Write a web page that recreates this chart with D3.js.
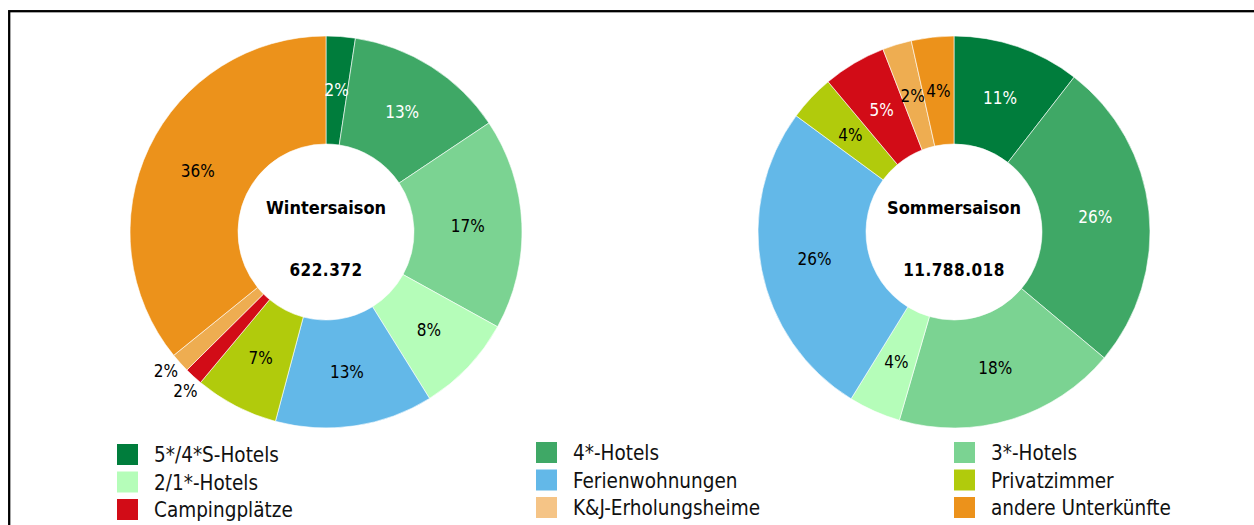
<!DOCTYPE html>
<html>
<head>
<meta charset="utf-8">
<script src="https://cdn.jsdelivr.net/npm/d3@7"></script>
<style>
  body { margin: 0; background: #fff; }
  svg { display: block; font-family: "DejaVu Sans Condensed", "DejaVu Sans", sans-serif; font-stretch: condensed; }
  .pct { font-family: "Liberation Sans Narrow", "DejaVu Sans Condensed", sans-serif; }
</style>
</head>
<body>
<div id="chart"></div>
<script>

// categories in legend / slice order
const categories = ["5*/4*S-Hotels", "4*-Hotels", "3*-Hotels", "2/1*-Hotels", "Ferienwohnungen",
    "Privatzimmer", "Campingplätze", "K&J-Erholungsheime", "andere Unterkünfte"];

// shares in percent
const winterShares = [2.4, 13.2, 17.4, 8.1, 13.0, 6.9, 1.5, 1.6, 35.8];
const summerShares = [10.5, 25.6, 18.4, 4.3, 26.3, 3.8, 5.2, 2.4, 3.5];

const seasons = ["Wintersaison", "Sommersaison"];
const totals = ["622.372", "11.788.018"];

const sliceColors = ["#007d3c", "#3fa866", "#7bd392", "#b5fdb9", "#63b8e8", "#b1cb0c", "#d20c17", "#eead51", "#ec921b"];
const legendColors = ["#007d3c", "#3fa866", "#7bd392", "#b5fdb9", "#63b8e8", "#b1cb0c", "#d20c17", "#f5c486", "#ec921b"];
const whiteText = ["5*/4*S-Hotels", "4*-Hotels", "Campingplätze"];

let width = 1254, height = 525;

let svg = d3.select("#chart").append("svg")
    .attr("width", width)
    .attr("height", height);

// frame (runs off the right and bottom edge)
svg.append("rect")
    .attr("x", 9.2)
    .attr("y", 11.2)
    .attr("width", width + 20)
    .attr("height", height + 20)
    .attr("fill", "none")
    .attr("stroke", "#000")
    .attr("stroke-width", 2.3);

let color = d3.scaleOrdinal().domain(categories).range(sliceColors);
let legendColor = d3.scaleOrdinal().domain(categories).range(legendColors);

let outerR = 196, innerR = 88;

let pie = d3.pie().sort(null).value(d => d.value);
let arc = d3.arc().innerRadius(innerR).outerRadius(outerR);
let labelArc = d3.arc().innerRadius(142).outerRadius(142);
let outsideR = 212;
let minGap = 7.5 * Math.PI / 180;

let centers = [326, 954];

[winterShares, summerShares].forEach((shares, i) => {
    let data = categories.map((c, j) => ({cat: c, value: shares[j]}));
    let arcs = pie(data);

    // small slices get their label outside, spread a bit so they don't collide
    let outside = arcs.filter(d => d.data.value < 2);
    outside.forEach(d => d.labelAngle = (d.startAngle + d.endAngle) / 2);
    for (let k = 1; k < outside.length; k++) {
        let a = outside[k - 1], b = outside[k];
        let diff = b.labelAngle - a.labelAngle;
        if (diff < minGap) {
            let mid = (a.labelAngle + b.labelAngle) / 2;
            a.labelAngle = mid - minGap / 2;
            b.labelAngle = mid + minGap / 2;
        }
    }

    let g = svg.append("g")
        .attr("transform", `translate(${centers[i]}, 232)`);

    g.selectAll(".slice")
        .data(arcs)
        .enter().append("path")
        .attr("class", "slice")
        .attr("d", arc)
        .attr("fill", d => color(d.data.cat))
        .attr("stroke", "#fff")
        .attr("stroke-width", 0.6);

    g.selectAll(".pct")
        .data(arcs)
        .enter().append("text")
        .attr("class", "pct")
        .attr("transform", d => {
            let p;
            if (d.data.value < 2) {
                p = [outsideR * Math.sin(d.labelAngle), -outsideR * Math.cos(d.labelAngle)];
            } else {
                p = labelArc.centroid(d);
            }
            return `translate(${p[0]}, ${p[1]})`;
        })
        .attr("text-anchor", "middle")
        .attr("dominant-baseline", "central")
        .attr("font-size", "17px")
        .attr("fill", d => (d.data.value >= 2 && whiteText.includes(d.data.cat)) ? "#fff" : "#000")
        .text(d => Math.round(d.data.value) + "%");

    // hole text
    g.append("text")
        .attr("y", -25)
        .attr("text-anchor", "middle")
        .attr("dominant-baseline", "central")
        .attr("font-size", "18px")
        .attr("font-weight", "bold")
        .text(seasons[i]);

    g.append("text")
        .attr("y", 38)
        .attr("text-anchor", "middle")
        .attr("dominant-baseline", "central")
        .attr("font-size", "17px")
        .attr("font-weight", "bold")
        .attr("letter-spacing", "0.5px")
        .text(totals[i]);
});

// legend, 3 columns filled row by row
let legendX = [117, 536, 954];
let legendY = [444, 471.5, 499];

let legend = svg.selectAll(".legend-item")
    .data(categories)
    .enter().append("g")
    .attr("class", "legend-item")
    .attr("transform", (d, i) => `translate(${legendX[i % 3]}, ${legendY[Math.floor(i / 3)] - (i % 3 ? 2 : 0)})`);

legend.append("rect")
    .attr("width", 21)
    .attr("height", 21)
    .attr("fill", d => legendColor(d));

legend.append("text")
    .attr("x", 37)
    .attr("y", 11)
    .attr("dominant-baseline", "central")
    .attr("font-size", "20.5px")
    .attr("fill", "#111")
    .text(d => d);

</script>
</body>
</html>
